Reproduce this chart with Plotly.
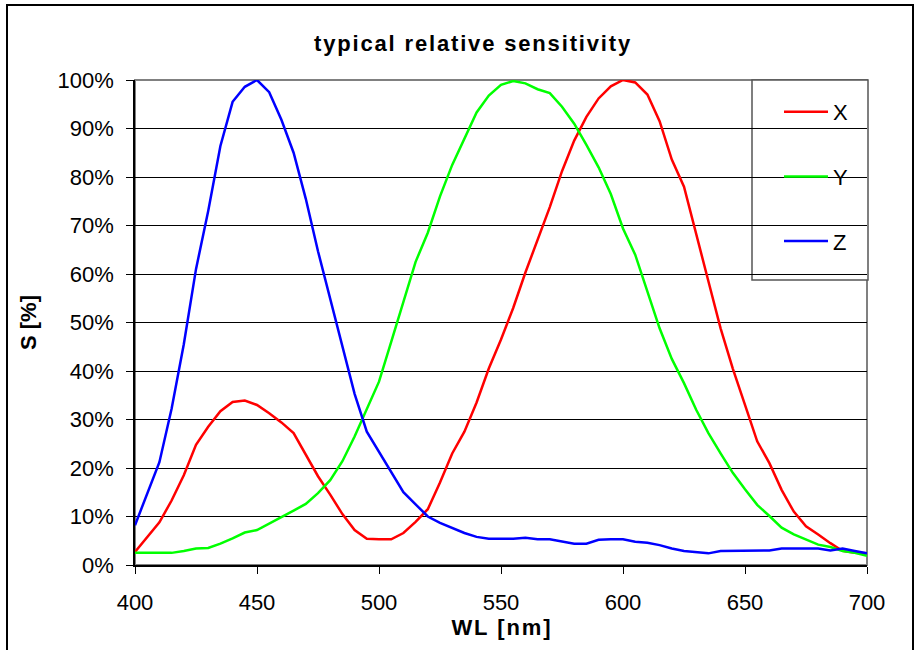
import plotly.graph_objects as go

wavelength = list(range(400, 701, 5))

x_sens = [2.7, 5.7, 8.8, 13.3, 18.5, 24.8, 28.5, 31.7, 33.6, 33.9,
          33.0, 31.3, 29.4, 27.2, 22.8, 18.3, 14.5, 10.5, 7.2, 5.4,
          5.3, 5.3, 6.6, 8.9, 11.5, 17.0, 23.0, 27.5, 33.5, 40.5,
          46.5, 53.0, 60.3, 67.0, 73.8, 81.2, 87.5, 92.4, 96.2, 98.7,
          100.0, 99.5, 97.0, 91.5, 83.6, 78.0, 68.5, 58.5, 48.8, 40.5,
          33.0, 25.5, 21.0, 15.5, 11.0, 8.0, 6.3, 4.5, 2.9, 2.5, 2.4]

y_sens = [2.5, 2.5, 2.5, 2.5, 2.9, 3.4, 3.5, 4.4, 5.5, 6.7,
          7.2, 8.5, 9.9, 11.2, 12.6, 14.8, 17.5, 21.4, 26.5, 32.3,
          37.8, 46.0, 54.5, 62.5, 68.5, 76.0, 82.5, 87.8, 93.3, 96.8,
          99.0, 99.8, 99.3, 98.1, 97.3, 94.5, 91.0, 86.6, 82.0, 76.5,
          69.4, 64.0, 56.5, 48.8, 42.5, 37.5, 32.0, 27.2, 23.0, 19.0,
          15.6, 12.4, 10.1, 7.7, 6.3, 5.3, 4.2, 3.7, 2.9, 2.5, 1.9]

z_sens = [8.2, 14.8, 21.2, 32.2, 45.5, 61.0, 73.0, 86.4, 95.5, 98.6,
          100.0, 97.5, 91.8, 85.0, 75.5, 64.7, 55.0, 45.2, 35.3, 27.5,
          23.3, 19.0, 15.0, 12.5, 10.0, 8.7, 7.6, 6.6, 5.8, 5.4,
          5.4, 5.4, 5.6, 5.3, 5.3, 4.8, 4.4, 4.4, 5.2, 5.3,
          5.3, 4.8, 4.6, 4.1, 3.4, 2.9, 2.7, 2.4, 2.9, 2.9,
          2.9, 2.9, 3.0, 3.4, 3.4, 3.4, 3.4, 3.0, 3.4, 2.9, 2.4]

series_names = ["X", "Y", "Z"]
series_colors = ["#FF0000", "#00FF00", "#0000FF"]
x_ticks = [400, 450, 500, 550, 600, 650, 700]
y_ticks = list(range(0, 101, 10))

title_text = "typical relative sensitivity"
x_title = "WL [nm]"
y_title = "S [%]"

FONT = "Liberation Sans, Arial, sans-serif"
HAIR = "\u200a"


def spaced(s):
    return HAIR.join(s)


fig = go.Figure()
for name, vals, col in zip(series_names, [x_sens, y_sens, z_sens], series_colors):
    fig.add_trace(go.Scatter(x=wavelength, y=vals, mode="lines", name=name,
                             legendgroup=name,
                             line=dict(color=col, width=2.5)))

# plot area pixel geometry
L, R, T, B = 135, 867, 80, 565
W, H = R - L, B - T


def px(x):
    return (x - L) / W


def py(y):
    return (B - y) / H


shapes = [
    # outer chart frame
    dict(type="rect", xref="paper", yref="paper", x0=px(7), x1=px(913), y0=py(700), y1=py(5),
         line=dict(color="black", width=2), fillcolor="rgba(0,0,0,0)", layer="above"),
    # plot area border (gray)
    dict(type="rect", xref="paper", yref="paper", x0=0, x1=1, y0=0, y1=1,
         line=dict(color="#808080", width=2), fillcolor="rgba(0,0,0,0)", layer="between"),
    # legend box
    dict(type="rect", xref="paper", yref="paper", x0=px(752), x1=px(868), y0=py(280), y1=py(80),
         line=dict(color="#555555", width=1.5), fillcolor="white", layer="between"),
]

fig.update_layout(
    width=920, height=650,
    margin=dict(l=L, r=920 - R, t=T, b=650 - B),
    paper_bgcolor="white", plot_bgcolor="white",
    font=dict(family=FONT, size=22, color="black"),
    showlegend=True,
    legend=dict(x=px(779), y=py(91), xanchor="left", yanchor="top",
                bgcolor="rgba(0,0,0,0)", borderwidth=0,
                font=dict(family=FONT, size=22, color="black"),
                tracegroupgap=33, itemwidth=44),
    shapes=shapes,
    annotations=[dict(text="<b>" + spaced(title_text) + "</b>", xref="paper", yref="paper",
                      x=px(472), y=py(43), xanchor="center", yanchor="middle", showarrow=False,
                      font=dict(family=FONT, size=22, color="black"))],
    xaxis=dict(range=[400, 700], tickvals=x_ticks, ticktext=[str(v) for v in x_ticks],
               showgrid=False, zeroline=False, showline=True, linecolor="black", linewidth=1.5,
               ticks="outside", ticklen=7, tickwidth=1, tickcolor="black",
               ticklabelstandoff=10,
               title=dict(text="<b>" + spaced(x_title) + "</b>", standoff=4,
                          font=dict(family=FONT, size=22, color="black"))),
    yaxis=dict(range=[0, 100], tickvals=y_ticks, ticktext=[f"{v}%" for v in y_ticks],
               showgrid=True, gridcolor="black", gridwidth=1, zeroline=False,
               showline=True, linecolor="black", linewidth=1.5,
               ticks="outside", ticklen=7, tickwidth=1, tickcolor="black",
               ticklabelstandoff=8,
               title=dict(text="<b>" + y_title + "</b>", standoff=15,
                          font=dict(family=FONT, size=22, color="black"))),
)

fig.write_html("out.html", config={"displayModeBar": False},
               post_script="document.body.style.margin='0';")
